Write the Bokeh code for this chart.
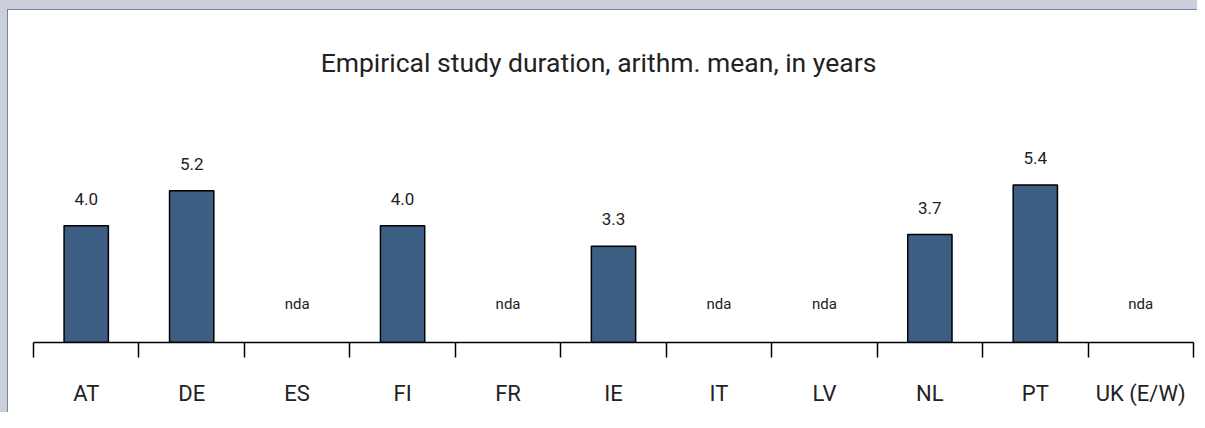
from bokeh.plotting import figure
from bokeh.models import FixedTicker, ColumnDataSource, Range1d
from bokeh.core.properties import value
from bokeh.embed import file_html
from bokeh.resources import INLINE

# ---- data ----
categories = ["AT", "DE", "ES", "FI", "FR", "IE", "IT", "LV", "NL", "PT", "UK (E/W)"]
durations = [4.0, 5.2, None, 4.0, None, 3.3, None, None, 3.7, 5.4, None]
missing_label = "nda"
chart_title = "Empirical study duration, arithm. mean, in years"

FONT = "Roboto"
TEXT_COLOR = "#222222"
BAR_COLOR = "#3b5e82"

centers = [i + 0.5 for i in range(len(categories))]
bar_src = ColumnDataSource(dict(
    x=[c for c, v in zip(centers, durations) if v is not None],
    top=[v for v in durations if v is not None],
    lab=[f"{v:.1f}" for v in durations if v is not None],
))
nda_src = ColumnDataSource(dict(
    x=[c for c, v in zip(centers, durations) if v is None],
    y=[0 for v in durations if v is None],
    lab=[missing_label for v in durations if v is None],
))

p = figure(width=1197, height=412, output_backend="svg", toolbar_location=None,
           x_range=Range1d(0, len(categories)), y_range=Range1d(0, 11.11),
           y_axis_location=None, min_border_left=33, min_border_right=4,
           min_border_top=18, min_border_bottom=70)
p.outline_line_color = None
p.xgrid.visible = False
p.ygrid.visible = False
p.background_fill_color = None
p.border_fill_color = None
p.styles = {
    "background-color": "#ffffff",
    "box-shadow": "inset 7px 9px 0 0 #cbcfdb, inset 8px 10px 0 0 #6f88a7",
}

p.vbar(x="x", top="top", width=0.42, bottom=0, source=bar_src,
       fill_color=BAR_COLOR, line_color="black", line_width=1.5)

p.text(x="x", y="top", text="lab", source=bar_src, y_offset=-27,
       text_align="center", text_baseline="middle",
       text_font=value(FONT), text_font_size="17px", text_color=TEXT_COLOR)
p.text(x="x", y="y", text="lab", source=nda_src, y_offset=-39,
       text_align="center", text_baseline="middle",
       text_font=value(FONT), text_font_size="15px", text_color=TEXT_COLOR)

p.text(x=[len(categories) / 2], y=[9.6], x_offset=-15, text=[chart_title],
       text_align="center", text_baseline="middle",
       text_font=value(FONT), text_font_size="26.5px", text_color=TEXT_COLOR)

ax = p.xaxis[0]
ax.ticker = FixedTicker(ticks=centers, minor_ticks=list(range(len(categories) + 1)))
ax.major_label_overrides = {c: name for c, name in zip(centers, categories)}
ax.major_tick_in = 0
ax.major_tick_out = 0
ax.minor_tick_in = 0
ax.minor_tick_out = 15
ax.minor_tick_line_color = "black"
ax.minor_tick_line_width = 1.5
ax.axis_line_color = "black"
ax.axis_line_width = 1.5
ax.major_label_standoff = 23
ax.major_label_text_font = FONT
ax.major_label_text_font_size = "22px"
ax.major_label_text_color = TEXT_COLOR

open("out.html", "w").write(file_html(p, INLINE))
